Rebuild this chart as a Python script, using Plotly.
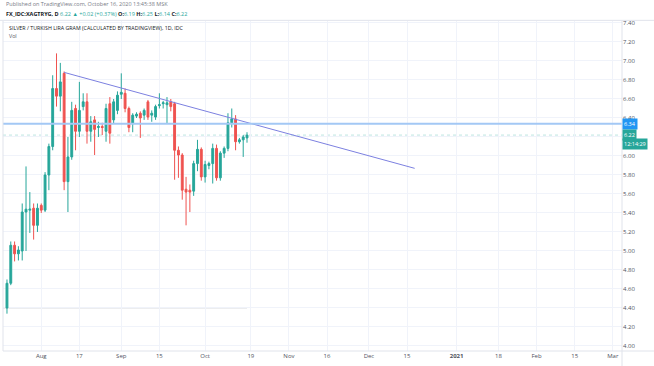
import pandas as pd
import plotly.graph_objects as go

# ---------------- data ----------------
dates = list(pd.bdate_range("2020-07-21", "2020-10-16"))

opens = [4.40, 4.66, 5.06, 4.97, 5.00, 5.41, 5.43, 5.45, 5.27, 5.48,
         5.43, 5.80, 6.10, 6.71, 6.63, 6.87, 5.73, 5.99, 6.50, 6.26,
         6.52, 6.57, 6.26, 6.38, 6.30, 6.31, 6.26, 6.55, 6.38, 6.48,
         6.65, 6.66, 6.50, 6.34, 6.42, 6.45, 6.43, 6.57, 6.43, 6.41,
         6.53, 6.55, 6.54, 6.57, 6.55, 6.06, 6.01, 5.65, 5.64, 5.63,
         5.92, 6.07, 5.78, 5.90, 5.92, 6.08, 5.77, 6.03, 6.08, 6.35,
         6.39, 6.15, 6.17, 6.19]
highs = [4.70, 5.10, 5.10, 5.05, 5.50, 5.89, 5.62, 5.50, 5.50, 5.50,
         5.83, 6.13, 6.85, 7.08, 6.98, 6.89, 6.20, 6.57, 6.54, 6.78,
         6.66, 6.66, 6.42, 6.42, 6.36, 6.35, 6.55, 6.62, 6.60, 6.68,
         6.87, 6.71, 6.52, 6.45, 6.46, 6.47, 6.50, 6.59, 6.48, 6.54,
         6.66, 6.58, 6.62, 6.60, 6.57, 6.10, 6.03, 5.78, 5.70, 5.95,
         6.17, 6.09, 5.95, 5.94, 6.13, 6.12, 6.05, 6.10, 6.45, 6.50,
         6.43, 6.19, 6.22, 6.25]
lows = [4.34, 4.64, 4.89, 4.90, 4.90, 5.00, 5.19, 5.12, 5.20, 5.40,
        5.41, 5.64, 6.06, 6.52, 6.47, 5.64, 5.41, 5.96, 6.06, 6.20,
        6.48, 6.13, 6.15, 6.01, 6.20, 6.22, 6.15, 6.13, 6.34, 6.44,
        6.60, 6.46, 6.25, 6.25, 6.40, 6.19, 6.38, 6.38, 6.36, 6.38,
        6.50, 6.50, 6.34, 6.47, 5.75, 5.77, 5.54, 5.27, 5.41, 5.58,
        5.84, 5.74, 5.72, 5.86, 5.71, 5.74, 5.74, 5.98, 6.05, 6.30,
        6.06, 6.13, 5.99, 6.14]
closes = [4.66, 5.06, 4.97, 5.01, 5.41, 5.44, 5.44, 5.27, 5.45, 5.43,
          5.80, 6.10, 6.71, 6.63, 6.78, 5.73, 5.99, 6.48, 6.26, 6.48,
          6.57, 6.26, 6.36, 6.28, 6.31, 6.30, 6.50, 6.24, 6.57, 6.64,
          6.67, 6.50, 6.30, 6.43, 6.44, 6.40, 6.48, 6.41, 6.45, 6.52,
          6.54, 6.56, 6.56, 6.52, 6.06, 6.01, 5.64, 5.62, 5.62, 5.92,
          6.07, 5.78, 5.91, 5.92, 6.08, 5.77, 6.03, 6.08, 6.35, 6.39,
          6.15, 6.17, 6.20, 6.22]

trend_dates = ["2020-08-11", "2020-12-17"]
trend_values = [6.88, 5.87]

hline_level = 6.34
last_price = 6.22
low_line_level = 4.40
countdown = "12:14:29"

x_tick_dates = ["2020-07-20", "2020-08-03", "2020-08-17", "2020-09-01", "2020-09-15",
                "2020-10-01", "2020-10-19", "2020-11-02", "2020-11-16", "2020-12-01",
                "2020-12-15", "2021-01-01", "2021-01-18", "2021-02-01", "2021-02-15",
                "2021-03-01"]
x_tick_text = ["20", "Aug", "17", "Sep", "15", "Oct", "19", "Nov", "16", "Dec",
               "15", "<b>2021</b>", "18", "Feb", "15", "Mar"]

# ---------------- style ----------------
UP = "#26a69a"
DOWN = "#ef5350"
GRID = "#f0f3fa"
BORDER = "#e0e3eb"
TXT = "#50535e"
FONT = "Open Sans"

fig = go.Figure()
fig.add_trace(go.Candlestick(
    x=dates, open=opens, high=highs, low=lows, close=closes,
    increasing=dict(line=dict(color=UP, width=1), fillcolor=UP),
    decreasing=dict(line=dict(color=DOWN, width=1), fillcolor=DOWN),
    whiskerwidth=0, showlegend=False, hoverinfo="skip"))

fig.add_trace(go.Scatter(
    x=trend_dates, y=trend_values, mode="lines",
    line=dict(color="#7c80e0", width=1), showlegend=False, hoverinfo="skip"))

fig.update_layout(
    width=654, height=366,
    margin=dict(l=3, r=32, t=21, b=15, autoexpand=False),
    paper_bgcolor="white", plot_bgcolor="white",
    font=dict(family=FONT, size=6, color=TXT),
    boxgap=0.3,
    xaxis=dict(
        automargin=False,
        range=["2020-07-17 23:00", "2021-03-03 10:00"],
        rangebreaks=[dict(bounds=["sat", "mon"])],
        tickvals=x_tick_dates, ticktext=x_tick_text,
        showgrid=True, gridcolor=GRID, gridwidth=1,
        zeroline=False, showline=False, ticks="",
        tickfont=dict(size=6, color=TXT),
        rangeslider=dict(visible=False),
    ),
    yaxis=dict(
        automargin=False,
        side="right", range=[3.947, 7.421],
        tick0=4, dtick=0.2, tickformat=".2f",
        showgrid=True, gridcolor=GRID, gridwidth=1,
        zeroline=False, showline=False, ticks="",
        tickfont=dict(size=6, color=TXT),
    ),
)

shapes = [
    # drawn horizontal line
    dict(type="line", xref="paper", x0=0, x1=1, yref="y", y0=hline_level, y1=hline_level,
         line=dict(color="#a3c8f5", width=2), layer="above"),
    # last price line
    dict(type="line", xref="paper", x0=0, x1=1, yref="y", y0=last_price, y1=last_price,
         line=dict(color="rgba(38,166,154,0.3)", width=1, dash="dot"), layer="below"),
    # gray level line
    dict(type="line", xref="x", x0="2020-07-17 23:00", x1=dates[-1], yref="y",
         y0=low_line_level, y1=low_line_level,
         line=dict(color="#d6d8de", width=1), layer="below"),
    # borders
    dict(type="line", xref="paper", x0=0, x1=0, yref="paper", y0=0, y1=1,
         line=dict(color=BORDER, width=1)),
    dict(type="line", xref="paper", x0=1, x1=1, yref="paper", y0=-0.05, y1=1,
         line=dict(color=BORDER, width=1)),
    dict(type="line", xref="paper", x0=0, x1=1.06, yref="paper", y0=0, y1=0,
         line=dict(color=BORDER, width=1)),
    dict(type="line", xref="paper", x0=-0.01, x1=1.06, yref="paper", y0=1.002, y1=1.002,
         line=dict(color=BORDER, width=1)),
]
fig.update_layout(shapes=shapes)

def px_x(p):
    return (p - 3) / 619.0

def px_y(p):
    return (351 - p) / 330.0

annotations = [
    dict(xref="paper", yref="paper", x=px_x(4), y=px_y(4.5), xanchor="left", yanchor="middle",
         text="Published on TradingView.com, October 16, 2020 13:45:38 MSK",
         showarrow=False, font=dict(size=5.5, color="#787b86", family=FONT)),
    dict(xref="paper", yref="paper", x=px_x(4), y=px_y(13.5), xanchor="left", yanchor="middle",
         text=("<b>FX_IDC:XAGTRYG, D</b> <span style='color:%s'>6.22 ▲ +0.02 (+0.37%%)</span> "
               "<b>O:</b><span style='color:%s'>6.19</span> <b>H:</b><span style='color:%s'>6.25</span> "
               "<b>L:</b><span style='color:%s'>6.14</span> <b>C:</b><span style='color:%s'>6.22</span>")
              % (UP, UP, UP, UP, UP),
         showarrow=False, font=dict(size=5.5, color="#131722", family=FONT)),
    dict(xref="paper", yref="paper", x=px_x(7), y=px_y(28.5), xanchor="left", yanchor="middle",
         text="SILVER / TURKISH LIRA GRAM (CALCULATED BY TRADINGVIEW), 1D, IDC",
         showarrow=False, font=dict(size=5.3, color="#131722", family=FONT)),
    dict(xref="paper", yref="paper", x=px_x(7), y=px_y(35.5), xanchor="left", yanchor="middle",
         text="Vol", showarrow=False, font=dict(size=5.3, color=TXT, family=FONT)),
    # price labels on the axis
    dict(xref="paper", yref="y", x=1, y=hline_level, xanchor="left", yanchor="middle",
         text="%.2f" % hline_level, showarrow=False, bgcolor="#2196f3", borderpad=1,
         font=dict(size=5.5, color="white", family=FONT)),
    dict(xref="paper", yref="y", x=1, y=last_price, xanchor="left", yanchor="middle",
         text="%.2f" % last_price, showarrow=False, bgcolor=UP, borderpad=1,
         font=dict(size=5.5, color="white", family=FONT)),
    dict(xref="paper", yref="y", x=1, y=last_price, yshift=-9, xanchor="left", yanchor="middle",
         text=countdown, showarrow=False, bgcolor=UP, borderpad=1,
         font=dict(size=5.5, color="white", family=FONT)),
]
fig.update_layout(annotations=annotations)

fig.write_html("out.html",
               config={"displayModeBar": False},
               post_script="document.body.style.margin='0';document.body.style.padding='0';")
